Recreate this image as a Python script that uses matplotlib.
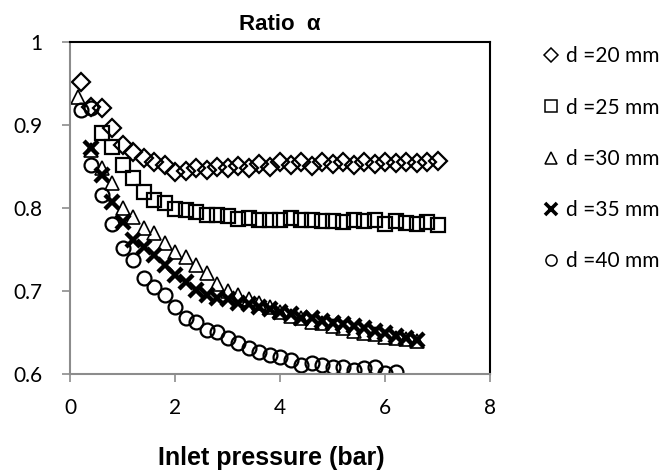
import matplotlib
matplotlib.use("Agg")
import matplotlib.pyplot as plt

# ---- data ----
x20 = [0.2, 0.4, 0.6, 0.8, 1.0, 1.2, 1.4, 1.6, 1.8, 2.0, 2.2, 2.4, 2.6, 2.8, 3.0, 3.2, 3.4, 3.6,
       3.8, 4.0, 4.2, 4.4, 4.6, 4.8, 5.0, 5.2, 5.4, 5.6, 5.8, 6.0, 6.2, 6.4, 6.6, 6.8, 7.0]
y20 = [0.952, 0.922, 0.921, 0.896, 0.876, 0.867, 0.860, 0.855, 0.852, 0.843, 0.845, 0.848, 0.846,
       0.850, 0.848, 0.851, 0.848, 0.853, 0.850, 0.855, 0.852, 0.856, 0.851, 0.855, 0.853, 0.856,
       0.852, 0.856, 0.853, 0.856, 0.854, 0.856, 0.854, 0.856, 0.857]

x25 = [0.6, 0.8, 1.0, 1.2, 1.4, 1.6, 1.8, 2.0, 2.2, 2.4, 2.6, 2.8, 3.0, 3.2, 3.4, 3.6, 3.8, 4.0,
       4.2, 4.4, 4.6, 4.8, 5.0, 5.2, 5.4, 5.6, 5.8, 6.0, 6.2, 6.4, 6.6, 6.8, 7.0]
y25 = [0.890, 0.873, 0.852, 0.836, 0.819, 0.810, 0.806, 0.799, 0.797, 0.795, 0.792, 0.791, 0.790,
       0.787, 0.788, 0.786, 0.786, 0.785, 0.788, 0.786, 0.785, 0.784, 0.784, 0.783, 0.785, 0.784,
       0.785, 0.781, 0.784, 0.782, 0.781, 0.783, 0.780]

x30 = [0.15, 0.4, 0.6, 0.8, 1.0, 1.2, 1.4, 1.6, 1.8, 2.0, 2.2, 2.4, 2.6, 2.8, 3.0, 3.2, 3.4, 3.6,
       3.8, 4.0, 4.2, 4.4, 4.6, 4.8, 5.0, 5.2, 5.4, 5.6, 5.8, 6.0, 6.2, 6.4, 6.6]
y30 = [0.934, 0.870, 0.848, 0.830, 0.800, 0.789, 0.776, 0.770, 0.758, 0.747, 0.741, 0.731, 0.722,
       0.708, 0.700, 0.695, 0.690, 0.686, 0.681, 0.675, 0.670, 0.667, 0.663, 0.661, 0.658, 0.655,
       0.652, 0.650, 0.648, 0.645, 0.643, 0.642, 0.640]

x35 = [0.4, 0.6, 0.8, 1.0, 1.2, 1.4, 1.6, 1.8, 2.0, 2.2, 2.4, 2.6, 2.8, 3.0, 3.2, 3.4, 3.6, 3.8,
       4.0, 4.2, 4.4, 4.6, 4.8, 5.0, 5.2, 5.4, 5.6, 5.8, 6.0, 6.2, 6.4, 6.6]
y35 = [0.872, 0.840, 0.807, 0.783, 0.761, 0.753, 0.743, 0.731, 0.719, 0.711, 0.701, 0.695, 0.692,
       0.690, 0.686, 0.684, 0.681, 0.678, 0.675, 0.672, 0.668, 0.668, 0.664, 0.662, 0.660, 0.658,
       0.655, 0.652, 0.650, 0.646, 0.643, 0.641]

x40 = [0.2, 0.4, 0.4, 0.6, 0.8, 1.0, 1.2, 1.4, 1.6, 1.8, 2.0, 2.2, 2.4, 2.6, 2.8, 3.0, 3.2, 3.4,
       3.6, 3.8, 4.0, 4.2, 4.4, 4.6, 4.8, 5.0, 5.2, 5.4, 5.6, 5.8, 6.0, 6.2]
y40 = [0.918, 0.921, 0.852, 0.816, 0.781, 0.752, 0.737, 0.716, 0.705, 0.695, 0.681, 0.667, 0.663,
       0.653, 0.651, 0.643, 0.637, 0.631, 0.627, 0.623, 0.620, 0.617, 0.611, 0.613, 0.611, 0.608,
       0.608, 0.605, 0.607, 0.608, 0.601, 0.602]

labels = ["d =20 mm", "d =25 mm", "d =30 mm", "d =35 mm", "d =40 mm"]
xticks = [0, 2, 4, 6, 8]
yticks = [0.6, 0.7, 0.8, 0.9, 1.0]
yticklabels = ["0.6", "0.7", "0.8", "0.9", "1"]

# ---- figure ----
fig = plt.figure(figsize=(6.72, 4.72), dpi=100)
ax = fig.add_axes([70/672, 1-374/472, 420/672, 332/472])

common = dict(linestyle="none", markerfacecolor="none", markeredgecolor="black")
ax.plot(x20, y20, marker="D", markersize=9, markeredgewidth=1.6, label=labels[0], **common)
ax.plot(x25, y25, marker="s", markersize=10, markeredgewidth=1.6, label=labels[1], **common)
ax.plot(x30, y30, marker="^", markersize=10, markeredgewidth=1.2, label=labels[2], **common)
ax.plot(x35, y35, marker="x", markersize=10, markeredgewidth=3.2, label=labels[3],
        linestyle="none", color="black")
ax.plot(x40, y40, marker="o", markersize=10, markeredgewidth=1.6, label=labels[4], **common)

ax.set_xlim(0, 8)
ax.set_ylim(0.6, 1.0)
ax.set_xticks(xticks)
ax.set_xticklabels([str(t) for t in xticks])
ax.set_yticks(yticks)
ax.set_yticklabels(yticklabels)

for lab in ax.get_xticklabels() + ax.get_yticklabels():
    lab.set_fontfamily("Lato")
    lab.set_fontsize(15)
ax.tick_params(axis="both", direction="out", length=6, width=1.2, color="#8c8c8c")
ax.tick_params(axis="x", pad=11)
ax.tick_params(axis="y", pad=14)

for s in ["left", "bottom"]:
    ax.spines[s].set_color("#8c8c8c")
    ax.spines[s].set_linewidth(1.5)
for s in ["top", "right"]:
    ax.spines[s].set_color("black")
    ax.spines[s].set_linewidth(1.5)

ax.set_title("Ratio  α", fontfamily="Liberation Sans", fontweight="bold", fontsize=16, pad=9)
ax.set_xlabel("Inlet pressure (bar)", fontfamily="Liberation Sans", fontweight="bold",
              fontsize=18, labelpad=24)
ax.xaxis.set_label_coords(271/672, 0, transform=fig.transFigure)
ax.xaxis.label.set_verticalalignment("center")
ax.xaxis.label.set_y(1-458/472)

leg = ax.legend(loc="upper left", bbox_to_anchor=(534/672, 1-38/472),
                bbox_transform=fig.transFigure, frameon=False, markerscale=0.8,
                prop=dict(family="Lato", size=15), labelspacing=1.5, handlelength=0.8,
                handletextpad=0.35, borderaxespad=0)
for h in leg.legend_handles:
    h.set_markeredgewidth(1.1)
leg.legend_handles[3].set_markeredgewidth(2.6)

fig.savefig("out.png", dpi=100)
